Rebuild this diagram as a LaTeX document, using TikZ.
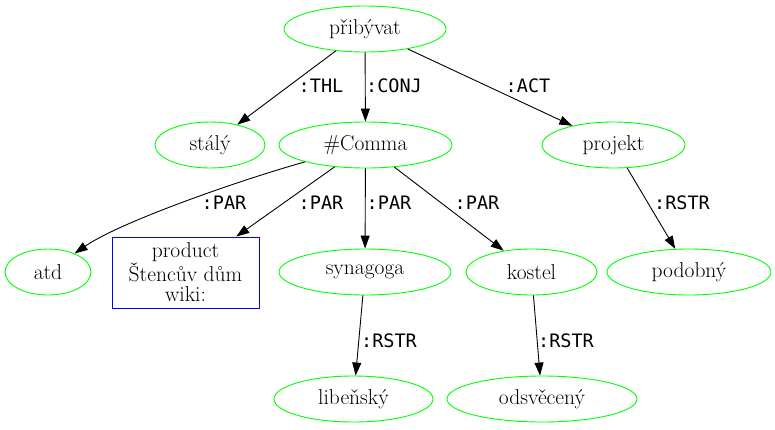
\documentclass[tikz,border=0pt]{standalone}
\usepackage{fontspec}
\setmonofont{DejaVu Sans Mono}
\usetikzlibrary{shapes.geometric,arrows.meta}
\definecolor{nodegreen}{RGB}{0,255,0}
\definecolor{boxblue}{RGB}{0,0,255}
\begin{document}
\begin{tikzpicture}[x=1pt, y=-1pt,
    every node/.style={font=\fontsize{21.5}{20.5}\selectfont},
    word/.style={draw=nodegreen, ellipse, line width=0.9pt, inner sep=0pt, minimum height=46pt},
    wordbox/.style={draw=boxblue, rectangle, line width=0.9pt, align=center, inner sep=0pt,
        minimum width=147pt, minimum height=71pt},
    edge/.style={-{Triangle[length=13pt, width=9pt]}, line width=0.9pt},
    lab/.style={font=\ttfamily\fontsize{18.5}{20}\selectfont}]
    \useasboundingbox (0,0) rectangle (775,429);
    % nodes
    \node[word, minimum width=162pt] (pribyvat) at (365,29) {přibývat};
    \node[word, minimum width=110pt] (staly) at (210,145) {stálý};
    \node[word, minimum width=173pt] (comma) at (365.5,145) {\#Comma};
    \node[word, minimum width=143pt] (projekt) at (613.5,145) {projekt};
    \node[word, minimum width=86pt] (atd) at (48,272) {atd};
    \node[wordbox] (product) at (185.5,272.5) {product\\Štencův dům\\wiki:};
    \node[word, minimum width=172pt] (synagoga) at (365,272) {synagoga};
    \node[word, minimum width=131pt] (kostel) at (531.5,272) {kostel};
    \node[word, minimum width=164pt] (podobny) at (689,272) {podobný};
    \node[word, minimum width=159pt] (libensky) at (353.5,399) {libeňský};
    \node[word, minimum width=190pt] (odsveceny) at (542,399) {odsvěcený};
    % edges
    \draw[edge] (pribyvat) -- (staly);
    \draw[edge] (pribyvat) -- (comma);
    \draw[edge] (pribyvat) -- (projekt);
    \draw[edge] (comma) .. controls (240,180) and (120,222) .. (atd);
    \draw[edge] (comma) -- (product);
    \draw[edge] (comma) -- (synagoga);
    \draw[edge] (comma) -- (kostel);
    \draw[edge] (projekt) -- (podobny);
    \draw[edge] (synagoga) -- (libensky);
    \draw[edge] (kostel) -- (odsveceny);
    % edge labels
    \node[lab] (l1) at (321,86) {:THL};
    \node[lab] (l2) at (394,86) {:CONJ};
    \node[lab] (l3) at (528,86) {:ACT};
    \node[lab] (l4) at (224,203) {:PAR};
    \node[lab] (l5) at (321,203) {:PAR};
    \node[lab] (l6) at (389,203) {:PAR};
    \node[lab] (l7) at (477,203) {:PAR};
    \node[lab] (l8) at (682,203) {:RSTR};
    \node[lab] (l9) at (389,341) {:RSTR};
    \node[lab] (l10) at (566,341) {:RSTR};
\end{tikzpicture}
\end{document}
